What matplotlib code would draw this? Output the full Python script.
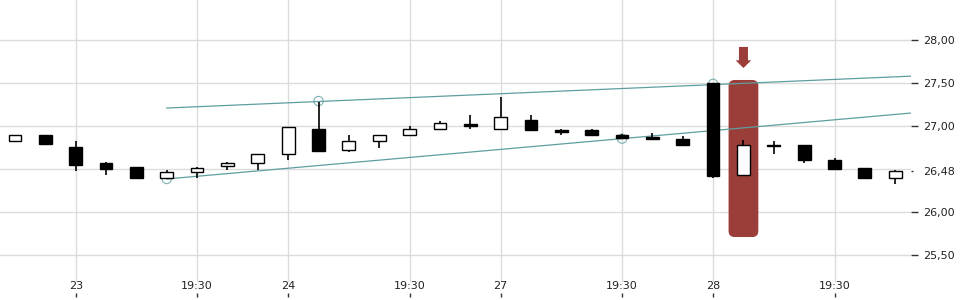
import matplotlib.pyplot as plt
import numpy as np
from matplotlib.patches import FancyBboxPatch, FancyArrow
import matplotlib.transforms as mtransforms

# Datos de las velas
aperturas = [26.83, 26.89, 26.76, 26.57, 26.52, 26.40, 26.47, 26.53, 26.57, 26.67,
             26.97, 26.72, 26.83, 26.89, 26.96, 27.02, 26.97, 27.07, 26.95, 26.95,
             26.90, 26.87, 26.85, 27.50, 26.43, 26.78, 26.78, 26.61, 26.51, 26.40]
maximos = [26.89, 26.90, 26.83, 26.58, 26.52, 26.49, 26.52, 26.58, 26.67, 26.99,
           27.28, 26.90, 26.89, 27.00, 27.06, 27.13, 27.34, 27.13, 26.97, 26.97,
           26.91, 26.92, 26.88, 27.50, 26.84, 26.83, 26.78, 26.63, 26.51, 26.49]
minimos = [26.83, 26.78, 26.48, 26.43, 26.40, 26.38, 26.40, 26.49, 26.49, 26.60,
           26.71, 26.70, 26.74, 26.89, 26.96, 26.97, 26.97, 26.95, 26.90, 26.88,
           26.85, 26.85, 26.78, 26.39, 26.43, 26.68, 26.57, 26.50, 26.38, 26.33]
cierres = [26.89, 26.79, 26.55, 26.50, 26.40, 26.46, 26.51, 26.57, 26.67, 26.99,
           26.71, 26.83, 26.89, 26.96, 27.03, 27.00, 27.10, 26.95, 26.93, 26.89,
           26.86, 26.85, 26.78, 26.42, 26.78, 26.77, 26.61, 26.50, 26.40, 26.48]

# Etiquetas del eje x
pos_ticks = [2, 6, 9, 13, 16, 20, 23, 27]
etiquetas = ['23', '19:30', '24', '19:30', '27', '19:30', '28', '19:30']

# Eje y
valores_y = [25.5, 26.0, 27.0, 27.5, 28.0]
ultimo = 26.48

# Líneas de tendencia (inicio y fin) y puntos de contacto
linea_sup = [(5, 27.209), (31, 27.602)]
linea_inf = [(5, 26.384), (31, 27.197)]
toques_x = [5, 10, 20, 23]
toques_y = [26.384, 27.29, 26.853, 27.49]

# Vela destacada
destacada = 24

fig = plt.figure(figsize=(9.6, 3), dpi=100)
ax = fig.add_axes([0, 0.01, 911 / 960, 0.99])
ax.set_xlim(-0.494, 29.52)
ax.set_ylim(25.0116, 28.465)

# Grilla manual
for v in [25.5, 26.0, 26.5, 27.0, 27.5, 28.0]:
    ax.axhline(v, color='#dcdcdc', lw=1, zorder=0)
for p in pos_ticks:
    ax.axvline(p, ymin=0.054, color='#dcdcdc', lw=1, zorder=0)

# Rectángulo rojo y flecha
rojo = '#9b3d38'
rect = FancyBboxPatch((destacada - 0.49, 25.709), 0.98, 27.535 - 25.709,
                      boxstyle='round,pad=0,rounding_size=0.2',
                      mutation_aspect=0.353, facecolor=rojo, edgecolor='none', zorder=1)
ax.add_patch(rect)
flecha = FancyArrow(destacada, 27.919, 0, -0.245, width=0.297, head_width=0.514,
                    head_length=0.0895, length_includes_head=True,
                    facecolor=rojo, edgecolor='none', zorder=1)
ax.add_patch(flecha)

# Líneas de tendencia
teal = '#5f9ea0'
for lin in [linea_sup, linea_inf]:
    ax.plot([lin[0][0], lin[1][0]], [lin[0][1], lin[1][1]], color=teal, lw=0.9, zorder=2)
ax.scatter(toques_x, toques_y, s=45, facecolors='none', edgecolors=teal,
           linewidths=0.8, alpha=0.8, zorder=2)

# Velas
x = np.arange(len(aperturas))
ap = np.array(aperturas)
ci = np.array(cierres)
ax.vlines(x, minimos, maximos, color='black', lw=1.2, zorder=3)
colores = ['white' if c >= o else 'black' for o, c in zip(ap, ci)]
alturas = np.maximum(np.abs(ci - ap), 0.008)
ax.bar(x, alturas, bottom=np.minimum(ap, ci), width=0.42, color=colores,
       edgecolor='black', linewidth=1.0, zorder=4)

# Ejes
for s in ax.spines.values():
    s.set_visible(False)
ax.yaxis.tick_right()
ax.set_yticks(valores_y, [f'{v:.2f}'.replace('.', ',') for v in valores_y])
ax.set_yticks([ultimo], [f'{ultimo:.2f}'.replace('.', ',')], minor=True)
ax.tick_params(axis='y', which='major', length=5, width=1, pad=4, color='#333333',
               labelsize=8, labelcolor='#222222')
ax.tick_params(axis='y', which='minor', length=1.5, width=1, pad=7.5, color='#333333',
               labelsize=8, labelcolor='#222222')
ax.set_xticks(pos_ticks, etiquetas)
ax.tick_params(axis='x', direction='in', length=3, width=1, pad=-11.5, color='#333333',
               labelsize=8, labelcolor='#222222')
# Etiqueta cortada a la izquierda
trans = mtransforms.blended_transform_factory(ax.transData, ax.transAxes)
ax.text(-1, 0.054, '19:30', transform=trans, ha='center', va='top', fontsize=8,
        color='#222222', clip_on=False)

fig.savefig('out.png', dpi=100)
